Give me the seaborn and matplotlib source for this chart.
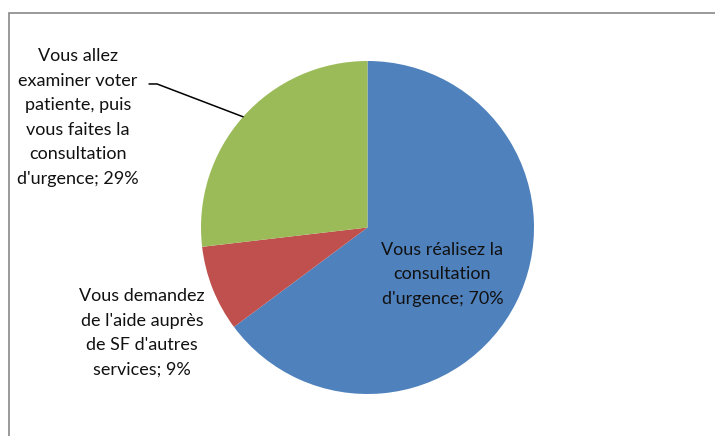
import matplotlib
matplotlib.use("Agg")
import numpy as np
import seaborn as sns
import matplotlib.pyplot as plt
from matplotlib.patches import Rectangle

# data (Excel pie, values do not sum to 100)
categories = [
    "Vous réalisez la\nconsultation\nd'urgence",
    "Vous demandez\nde l'aide auprès\nde SF d'autres\nservices",
    "Vous allez\nexaminer voter\npatiente, puis\nvous faites la\nconsultation\nd'urgence",
]
values = [70, 9, 29]
separators = [";", ";", ";"]
colors = ["#4F81BD", "#C0504D", "#9BBB59"]

sns.set_theme(style="white")
plt.rcParams["font.family"] = ["Lato", "DejaVu Sans"]

W, H = 715, 436
fig = plt.figure(figsize=(W / 100, H / 100), dpi=100)

# outer chart frame, only top and left edges visible in the crop
fig.patches.append(Rectangle((9 / W, -0.1), 1.2, (H - 13) / H + 0.1,
                             transform=fig.transFigure, fill=False,
                             edgecolor="#898989", linewidth=1.2))

cx, cy, r = 367.5, 227.5, 166.5
ax = fig.add_axes([(cx - r) / W, (H - cy - r) / H, 2 * r / W, 2 * r / H])
wedges, _ = ax.pie(values, colors=colors, startangle=90, counterclock=False,
                   wedgeprops=dict(linewidth=0))
ax.set_xlim(-1, 1)
ax.set_ylim(-1, 1)
ax.set_aspect("equal")
ax.axis("off")

labels = [f"{c}{s} {v}%" for c, s, v in zip(categories, separators, values)]
label_pos = [(0.45, -0.28), (-1.354, -0.634), (-1.74, 0.66)]
for lab, (x, y) in zip(labels, label_pos):
    ax.text(x, y, lab, ha="center", va="center", fontsize=13,
            color="#111111", linespacing=1.65, clip_on=False)

# leader line for the green slice
g = wedges[2]
mid = np.deg2rad((g.theta1 + g.theta2) / 2)
ex, ey = np.cos(mid), np.sin(mid)
ax.plot([-1.312, -1.264, ex], [0.862, 0.862, ey], color="black",
        linewidth=1.1, clip_on=False)

fig.savefig("out.png", dpi=100)
